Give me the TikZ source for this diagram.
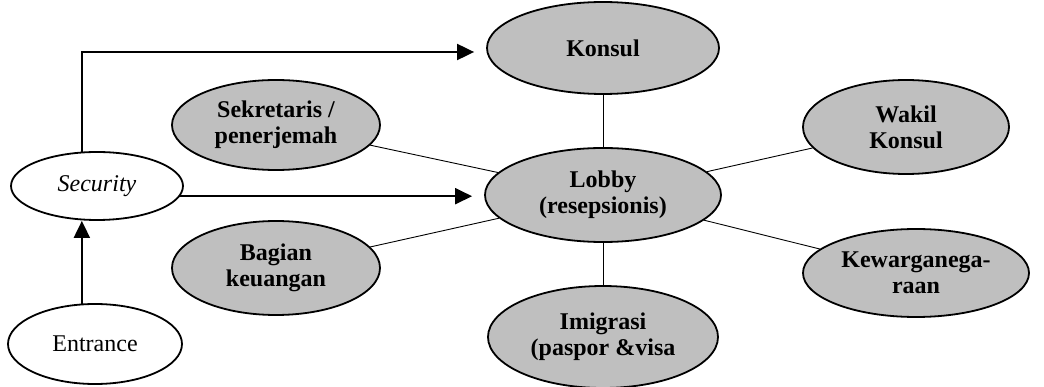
\documentclass[tikz,border=0pt]{standalone}
\usepackage{fontspec}
\setmainfont{Liberation Serif}
\usetikzlibrary{shapes.geometric,arrows.meta}
\begin{document}
\begin{tikzpicture}[x=1pt,y=-1pt,
  every node/.style={font=\fontsize{24}{26}\selectfont},
  oval/.style={ellipse,draw,line width=1.8pt,inner sep=0pt,align=center},
  shaded/.style={oval,fill=black!25,font=\fontsize{24}{26}\selectfont\bfseries},
  plain/.style={oval,fill=white},
  link/.style={line width=0.9pt},
  flow/.style={line width=2pt,-{Triangle[length=17pt,width=16pt]}}]
\useasboundingbox (0,0) rectangle (1044,387);
\node[plain,minimum width=172pt,minimum height=68pt] (sec) at (97,186) {\itshape Security};
\node[plain,minimum width=174pt,minimum height=80pt] (ent) at (95,344) {Entrance};
\node[shaded,minimum width=232pt,minimum height=92pt] (kon) at (603,48) {Konsul};
\node[shaded,minimum width=236pt,minimum height=94pt] (lob) at (603,195) {Lobby\\(resepsionis)};
\node[shaded,minimum width=230pt,minimum height=102pt] (imi) at (603,337) {Imigrasi\\(paspor \&visa};
\node[shaded,minimum width=208pt,minimum height=90pt] (sek) at (276,125) {Sekretaris /\\penerjemah};
\node[shaded,minimum width=208pt,minimum height=94pt] (bag) at (276,268) {Bagian\\keuangan};
\node[shaded,minimum width=206pt,minimum height=94pt] (wak) at (906,127) {Wakil\\Konsul};
\node[shaded,minimum width=226pt,minimum height=88pt] (kew) at (916,273) {Kewarganega-\\raan};
\draw[link] (kon) -- (lob);
\draw[link] (imi) -- (lob);
\draw[link] (sek) -- (lob);
\draw[link] (bag) -- (lob);
\draw[link] (wak) -- (lob);
\draw[link] (kew) -- (lob);
\draw[flow] (ent.108) -- (ent.108 |- sec.south);
\draw[flow,shorten >=12pt] (sec.-7.7) -- (sec.-7.7 -| lob.west);
\draw[flow,shorten >=12pt] (sec.114) |- ([yshift=-4pt]kon.west);
\end{tikzpicture}
\end{document}
